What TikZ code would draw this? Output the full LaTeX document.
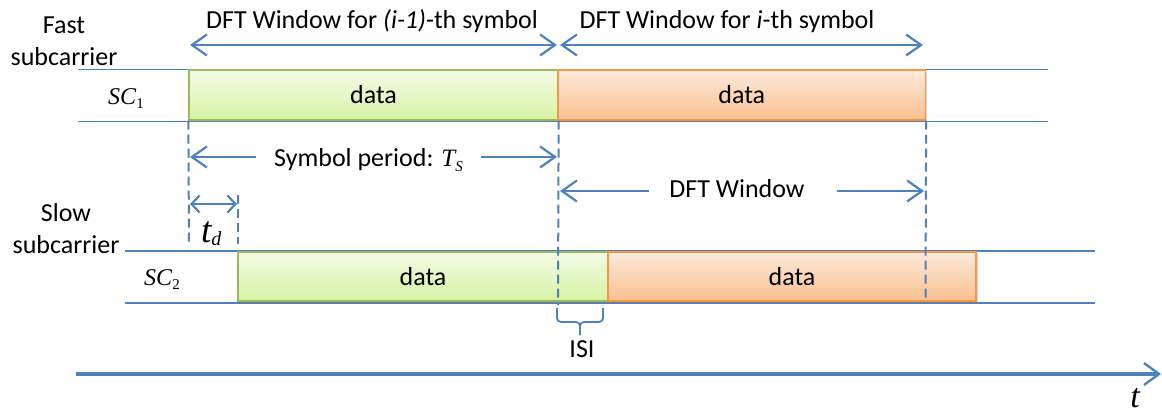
\documentclass[tikz,border=0pt]{standalone}
\usepackage{fontspec}
\setmainfont{Carlito}
\newfontfamily\tnr{Liberation Serif}
\usetikzlibrary{arrows.meta,shadows}
\definecolor{lineblue}{HTML}{4F81BD}
\definecolor{greenedge}{HTML}{9BBB59}
\definecolor{greentop}{HTML}{F3FBE6}
\definecolor{greenbot}{HTML}{D6F3A4}
\definecolor{orangeedge}{HTML}{F79646}
\definecolor{orangetop}{HTML}{FDEADC}
\definecolor{orangebot}{HTML}{FAC08F}
\begin{document}
\begin{tikzpicture}[x=1pt,y=-1pt,
  lane/.style={draw=lineblue,line width=1.8pt},
  guide/.style={draw=lineblue,line width=2pt,dash pattern=on 9pt off 5pt},
  barb/.tip={Straight Barb[length=15pt,width=21pt]},
  span/.style={draw=lineblue,line width=2.2pt,barb-barb},
  halfspan/.style={draw=lineblue,line width=2.2pt},
  cell/.style={minimum height=50pt,inner sep=0pt,line width=1.3pt,
    font=\fontsize{26}{30}\selectfont,
    drop shadow={shadow xshift=1.5pt,shadow yshift=-2.5pt,opacity=0.3}},
  greencell/.style={cell,draw=greenedge,top color=greentop,bottom color=greenbot},
  orangecell/.style={cell,draw=orangeedge,top color=orangetop,bottom color=orangebot},
  txt/.style={font=\fontsize{26}{32}\selectfont,inner sep=0pt},
  sym/.style={inner sep=0pt}
]
\useasboundingbox (0,0) rectangle (1162,414);

% subcarrier lanes and time axis
\coordinate (f1a) at (78,69.5);   \coordinate (f1b) at (1048,69.5);
\coordinate (f2a) at (78,121.5);  \coordinate (f2b) at (1048,121.5);
\coordinate (s1a) at (125,251);   \coordinate (s1b) at (1095,251);
\coordinate (s2a) at (125,303);   \coordinate (s2b) at (1095,303);
\coordinate (ta) at (76,374);     \coordinate (tb) at (1161,374);
\draw[lane] (f1a) -- (f1b);
\draw[lane] (f2a) -- (f2b);
\draw[lane] (s1a) -- (s1b);
\draw[lane] (s2a) -- (s2b);
\draw[draw=lineblue,line width=3.2pt,-{Straight Barb[length=15pt,width=22pt,line width=2.4pt]}] (ta) -- (tb);

% data symbols
\node[greencell,minimum width=369pt] (g1) at (373.5,95) {data};
\node[orangecell,minimum width=367.5pt] (o1) at (741.75,95) {data};
\node[greencell,minimum width=370pt,minimum height=49pt] (g2) at (423,276.5) {data};
\node[orangecell,minimum width=368pt,minimum height=49pt] (o2) at (792,276.5) {data};

% dashed timing guides
\coordinate (d0) at (189,245);
\coordinate (d1a) at (238,195);  \coordinate (d1b) at (238,244);
\coordinate (d2) at (558,305);
\coordinate (d3) at (925.5,300);
\draw[guide] (g1.south west) -- (d0);
\draw[guide] (d1a) -- (d1b);
\draw[guide] (g1.south east) -- (d2);
\draw[guide] (o1.south east) -- (d3);

% row labels
\node[txt,align=center,anchor=north] (fast) at (64,17) {Fast\\subcarrier};
\node[txt,align=center,anchor=north] (slow) at (66,203) {Slow\\subcarrier};
\node[sym,anchor=base] (sc1) at (126,105)
  {\tnr\fontsize{24}{24}\selectfont\itshape SC\raisebox{-4pt}{\upshape\fontsize{15}{15}\selectfont 1}};
\node[sym,anchor=base] (sc2) at (162,285)
  {\tnr\fontsize{24}{24}\selectfont\itshape SC\raisebox{-4pt}{\upshape\fontsize{15}{15}\selectfont 2}};

% DFT windows of the fast subcarrier
\coordinate (w0) at (190,45); \coordinate (w1) at (557,45);
\coordinate (w2) at (560,45); \coordinate (w3) at (923,45);
\draw[span] (w0) -- (w1);
\draw[span] (w2) -- (w3);
\node[txt,anchor=base] (wl) at (372,28.5) {DFT Window for \textit{(i-1)}-th symbol};
\node[txt,anchor=base] (wr) at (727,28.5) {DFT Window for \textit{i}-th symbol};

% symbol period
\coordinate (p0) at (190,157); \coordinate (p1) at (557,157);
\node[txt,anchor=base,inner xsep=18pt] (per) at (368.5,167)
  {Symbol period: {\tnr\fontsize{25}{25}\selectfont\itshape T\raisebox{-5pt}{\fontsize{15}{15}\selectfont S}}};
\draw[halfspan,barb-] (p0) -- (p0 -| per.west);
\draw[halfspan,-barb] (p1 -| per.east) -- (p1);

% delay t_d
\coordinate (e0) at (190,204); \coordinate (e1) at (237,204);
\draw[draw=lineblue,line width=2.2pt,{Straight Barb[length=8pt,width=17pt]}-{Straight Barb[length=8pt,width=17pt]}] (e0) -- (e1);
\node[sym,anchor=base west] (td) at (201,243)
  {\tnr\itshape\fontsize{37}{37}\selectfont t\raisebox{-3pt}{\fontsize{20}{20}\selectfont d}};

% DFT window of the slow subcarrier
\coordinate (q0) at (560,191); \coordinate (q1) at (924,191);
\node[txt,anchor=base,inner xsep=20pt] (dw) at (737,198) {DFT Window};
\draw[halfspan,barb-] (q0) -- (q0 -| dw.west);
\draw[halfspan,-barb,shorten <=12pt] (q1 -| dw.east) -- (q1);

% ISI bracket
\coordinate (bl) at (557,308); \coordinate (br) at (603,308);
\coordinate (bm) at (580,322); \coordinate (bt) at (580,335);
\draw[draw=lineblue,line width=1.8pt,rounded corners=4pt] (bl) |- (bm) -- (bt);
\draw[draw=lineblue,line width=1.8pt,rounded corners=4pt] (br) |- (bm) -- (bt);
\node[txt,anchor=base] (isi) at (582,357) {ISI};

% time label
\node[sym,anchor=base] (tl) at (1135,407) {\tnr\itshape\fontsize{34}{34}\selectfont t};
\end{tikzpicture}
\end{document}
